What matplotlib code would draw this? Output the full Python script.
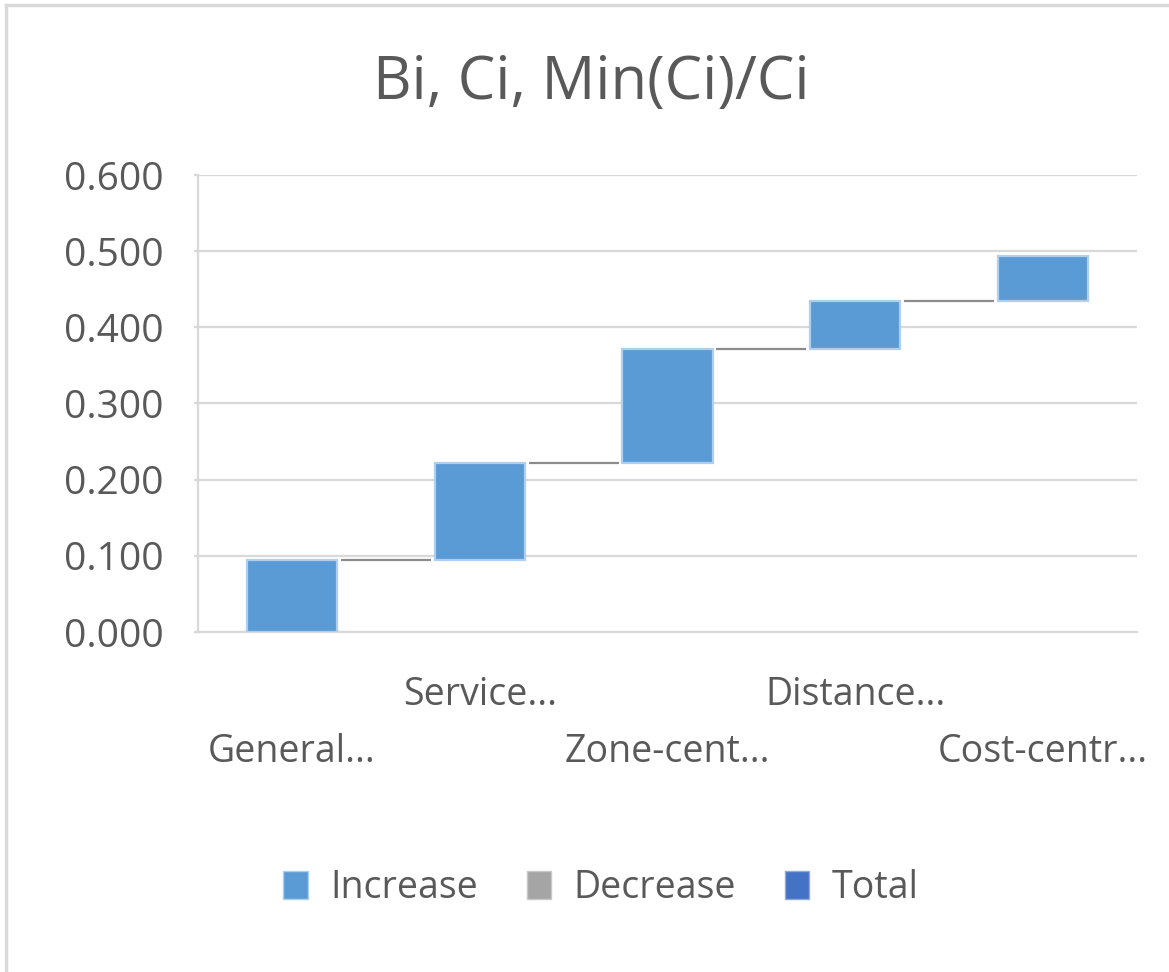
import matplotlib
matplotlib.use("Agg")
import matplotlib.pyplot as plt
from matplotlib.patches import Patch
from matplotlib.lines import Line2D
import numpy as np

# ---- data ----
categories = ["General...", "Service...", "Zone-cent...", "Distance...", "Cost-centr..."]
increments = [0.094, 0.128, 0.150, 0.063, 0.059]
yticks = [0.0, 0.1, 0.2, 0.3, 0.4, 0.5, 0.6]
ytick_labels = ["0.000", "0.100", "0.200", "0.300", "0.400", "0.500", "0.600"]
legend_labels = ["Increase", "Decrease", "Total"]
title = "Bi, Ci, Min(Ci)/Ci"

# ---- style ----
FONT = ["Open Sans", "DejaVu Sans"]
plt.rcParams["font.family"] = FONT
C_INC = "#5B9BD5"
C_DEC = "#A5A5A5"
C_TOT = "#4472C4"
TXT = "#595959"
GRID = "#D9D9D9"

fig = plt.figure(figsize=(11.69, 9.72), dpi=100)
ax = fig.add_axes([198 / 1169, 1 - 632 / 972, (1137 - 198) / 1169, (632 - 175) / 972])

x = np.arange(len(categories))
inc = np.array(increments)
ends = np.cumsum(inc)
starts = ends - inc
bw = 0.48

ax.bar(x, inc, bottom=starts, width=bw, color=C_INC, edgecolor="#AFCFEE",
       linewidth=1.6, zorder=3)

# connectors
for i in range(len(x) - 1):
    ax.plot([x[i] + bw / 2 + 0.02, x[i + 1] - bw / 2 - 0.02], [ends[i], ends[i]],
            color="#8C8C8C", linewidth=1.6, zorder=2, solid_capstyle="butt")

ax.set_xlim(-0.5, len(x) - 0.5)
ax.set_ylim(0, 0.6)
ax.set_yticks(yticks)
ax.set_yticklabels(ytick_labels)
ax.yaxis.grid(True, color=GRID, linewidth=1.6, zorder=0)
ax.set_axisbelow(True)

for s in ["top", "right"]:
    ax.spines[s].set_visible(False)
for s in ["left", "bottom"]:
    ax.spines[s].set_color(GRID)
    ax.spines[s].set_linewidth(1.6)

ax.tick_params(axis="y", colors=GRID, length=3, width=1.6, labelsize=28,
               labelcolor=TXT, pad=22)
ax.set_xticks(x)
ax.set_xticklabels(categories, fontsize=27, color=TXT)
ax.tick_params(axis="x", length=0)
for i, t in enumerate(ax.xaxis.get_major_ticks()):
    t.set_pad(32 if i % 2 == 1 else 73)

fig.text(0.506, 1 - 83 / 972, title, ha="center", va="center", fontsize=43, color=TXT)

handles = [Patch(facecolor=C_INC, edgecolor="#AFCFEE"),
           Patch(facecolor=C_DEC, edgecolor="#C8C8C8"),
           Patch(facecolor=C_TOT, edgecolor="#8FAADC")]
fig.legend(handles, legend_labels, loc="center", bbox_to_anchor=(0.514, 1 - 888 / 972),
           ncol=3, frameon=False, fontsize=27, handlelength=0.65, handleheight=0.8,
           handletextpad=0.6, columnspacing=1.3, labelcolor=TXT)

# chart-area frame (top and left visible)
fig.add_artist(Line2D([6 / 1169, 1], [1 - 5 / 972, 1 - 5 / 972], transform=fig.transFigure,
                      color=GRID, linewidth=2.5))
fig.add_artist(Line2D([6 / 1169, 6 / 1169], [0, 1 - 5 / 972], transform=fig.transFigure,
                      color=GRID, linewidth=2.5))

fig.savefig("out.png", dpi=100)
